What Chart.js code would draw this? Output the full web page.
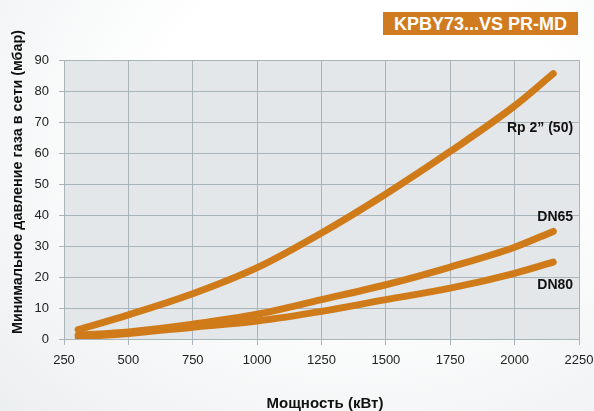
<!DOCTYPE html>
<html lang="ru">
<head>
<meta charset="UTF-8">
<title>KPBY73...VS PR-MD</title>
<script src="https://cdn.jsdelivr.net/npm/chart.js"></script>
<style>
  html, body { margin: 0; padding: 0; }
  body {
    width: 594px; height: 411px; overflow: hidden; position: relative;
    background: radial-gradient(ellipse at 60% 30%, #ffffff 40%, #eceff0 100%);
    font-family: "Liberation Sans", Arial, sans-serif;
  }
  #wrap { position: absolute; left: 0; top: 0; width: 594px; height: 411px; }
  #badge {
    position: absolute; left: 383px; top: 12px; width: 195px; height: 23px;
    background: #d07b1f; color: #fff; font-weight: bold; font-size: 18px;
    line-height: 24px; text-align: center;
  }
</style>
</head>
<body>
<div id="wrap"><canvas id="chart" width="594" height="411"></canvas></div>
<div id="badge">KPBY73...VS PR-MD</div>
<script>
// мощность (кВт)
const power = [305, 500, 750, 1000, 1250, 1500, 1750, 2000, 2150];
// минимальное давление (мбар)
const rp2 = [3, 7.8, 14.6, 23, 34.2, 46.8, 60.5, 75.2, 85.6];
const dn65 = [1.2, 2.3, 4.8, 8, 12.7, 17.5, 23.2, 29.6, 34.7];
const dn80 = [0.7, 1.8, 3.8, 5.8, 8.9, 12.7, 16.4, 21.2, 24.8];
const seriesNames = ['Rp 2\u201D (50)', 'DN65', 'DN80'];
const xTitle = 'Мощность (кВт)';
const yTitle = 'Минимальное давление газа в сети (мбар)';
// положение подписей (в единицах осей)
const labelPos = [[2227, 68], [2227, 39.4], [2227, 17.5]];

const orange = '#d07b1a';
const toPts = ys => power.map((x, i) => ({ x: x, y: ys[i] }));

const plotBg = {
  id: 'plotBg',
  beforeDraw(chart) {
    const a = chart.chartArea, c = chart.ctx;
    c.save();
    c.fillStyle = '#e3e7e9';
    c.fillRect(a.left, a.top, a.right - a.left, a.bottom - a.top);
    c.restore();
  }
};

const texts = {
  id: 'texts',
  afterDatasetsDraw(chart) {
    const c = chart.ctx, xs = chart.scales.x, ys = chart.scales.y;
    c.save();
    c.font = 'bold 14px "Liberation Sans", Arial, sans-serif';
    c.fillStyle = '#111';
    c.textAlign = 'right';
    c.textBaseline = 'middle';
    seriesNames.forEach((n, i) => {
      c.fillText(n, xs.getPixelForValue(labelPos[i][0]), ys.getPixelForValue(labelPos[i][1]));
    });
    // заголовки осей
    c.textAlign = 'center';
    c.font = 'bold 15px "Liberation Sans", Arial, sans-serif';
    c.fillText(xTitle, 325, 404);
    c.translate(18, 182);
    c.rotate(-Math.PI / 2);
    c.font = 'bold 14.4px "Liberation Sans", Arial, sans-serif';
    c.fillText(yTitle, 0, 0);
    c.restore();
  }
};

const ds = (label, ys) => ({
  label: label,
  data: toPts(ys),
  borderColor: orange,
  borderWidth: 7,
  borderCapStyle: 'round',
  borderJoinStyle: 'round',
  pointRadius: 0,
  cubicInterpolationMode: 'monotone',
  fill: false
});

new Chart(document.getElementById('chart'), {
  type: 'line',
  data: { datasets: [ds(seriesNames[0], rp2), ds(seriesNames[1], dn65), ds(seriesNames[2], dn80)] },
  options: {
    responsive: false,
    animation: false,
    layout: { padding: { top: 60, right: 0, left: 4, bottom: 0 } },
    plugins: { legend: { display: false }, tooltip: { enabled: false } },
    scales: {
      x: {
        type: 'linear', min: 250, max: 2250,
        afterFit(s) { s.height = 72; s.paddingRight = 15; },
        ticks: {
          stepSize: 250, color: '#222', font: { size: 13 }, padding: 8, maxRotation: 0,
          callback: v => String(v)
        },
        grid: { color: '#a9b4bb', lineWidth: 1, tickLength: 6, tickColor: '#a9b4bb' },
        border: { color: '#a9b4bb' }
      },
      y: {
        min: 0, max: 90,
        afterFit(s) { s.width = 60; },
        ticks: {
          stepSize: 5, color: '#222', font: { size: 13 }, padding: 10,
          callback: v => (v % 10 === 0 ? String(v) : '')
        },
        grid: {
          lineWidth: 1, tickLength: 5,
          color: c => (c.tick && c.tick.value % 10 === 0 ? '#a9b4bb' : '#c3cbd0'),
          tickColor: c => (c.tick && c.tick.value % 10 === 0 ? '#a9b4bb' : 'rgba(0,0,0,0)')
        },
        border: { color: '#a9b4bb' }
      }
    }
  },
  plugins: [plotBg, texts]
});
</script>
</body>
</html>
